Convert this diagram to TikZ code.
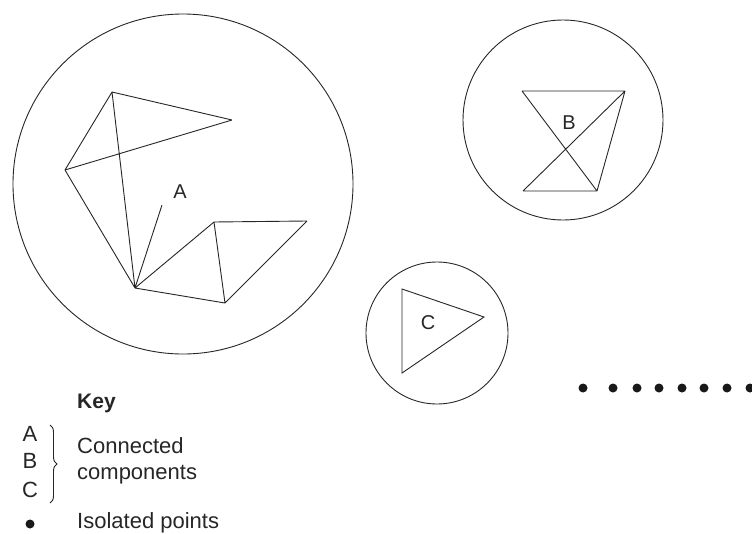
\documentclass[tikz,border=0pt]{standalone}
\usepackage{fontspec}
\setmainfont{Liberation Sans}
\usepackage{tikz}
\usetikzlibrary{positioning,decorations.pathreplacing}

\begin{document}
\begin{tikzpicture}[
  x=1pt,y=-1pt,
  font=\fontsize{20}{24}\selectfont,
  edge/.style={line width=0.9pt,black!85},
  ring/.style={circle,draw,line width=0.9pt,black!85,inner sep=0pt},
  lbl/.style={inner sep=1pt,text=black!85},
  keytxt/.style={lbl,font=\fontsize{22}{26}\selectfont},
  dotpt/.style={circle,fill=black!90,inner sep=0pt,minimum size=9pt},
]
\useasboundingbox (0,0) rectangle (752,533);

% component A
\node[ring,minimum size=340pt] (ringA) at (183,184) {};
\coordinate (a1) at (112,92);
\coordinate (a2) at (232,120);
\coordinate (a3) at (65,170);
\coordinate (a4) at (135,288);
\coordinate (a5) at (162,205);
\coordinate (a6) at (214,222);
\coordinate (a7) at (307,221);
\coordinate (a8) at (225,303);
\draw[edge] (a1) -- (a2) (a1) -- (a3) (a3) -- (a2) (a1) -- (a4) (a3) -- (a4) (a4) -- (a5);
\draw[edge] (a4) -- (a6) (a6) -- (a7) (a6) -- (a8) (a4) -- (a8) (a7) -- (a8);
\node[lbl] (labA) at (180,192) {A};

% component B
\node[ring,minimum size=200pt] (ringB) at (563,120) {};
\coordinate (b1) at (522,91);
\coordinate (b2) at (625,91);
\coordinate (b3) at (523,191);
\coordinate (b4) at (597,191);
\draw[edge] (b1) -- (b2) (b1) -- (b4) (b2) -- (b3) (b3) -- (b4) (b2) -- (b4);
\node[lbl] (labB) at (569,123) {B};

% component C
\node[ring,minimum size=142pt] (ringC) at (437,333) {};
\coordinate (c1) at (402,289);
\coordinate (c2) at (484,317);
\coordinate (c3) at (402,373);
\draw[edge] (c1) -- (c2) -- (c3) -- cycle;
\node[lbl] (labC) at (428,323) {C};

% isolated points
\foreach \px [count=\i] in {583,613,637,659,682,704,727,750}
  \node[dotpt] (iso\i) at (\px,388) {};

% key
\node[lbl,anchor=west,font=\fontsize{21}{24}\selectfont\bfseries] (key) at (76,403) {Key};
\node[keytxt] (kA) at (30,434) {A};
\node[keytxt] (kB) at (30,461) {B};
\node[keytxt] (kC) at (30,490) {C};
\coordinate (bt) at (50,425);
\coordinate (bb) at (50,503);
\draw[edge,decorate,decoration={brace,amplitude=7pt}] (bt) -- (bb);
\node[keytxt,anchor=west,align=left] (kcc) at (76,461) {Connected\\components};
\node[dotpt] (kdot) at (30,524) {};
\node[keytxt,anchor=west] (kiso) at (76,523) {Isolated points};
\end{tikzpicture}
\end{document}
